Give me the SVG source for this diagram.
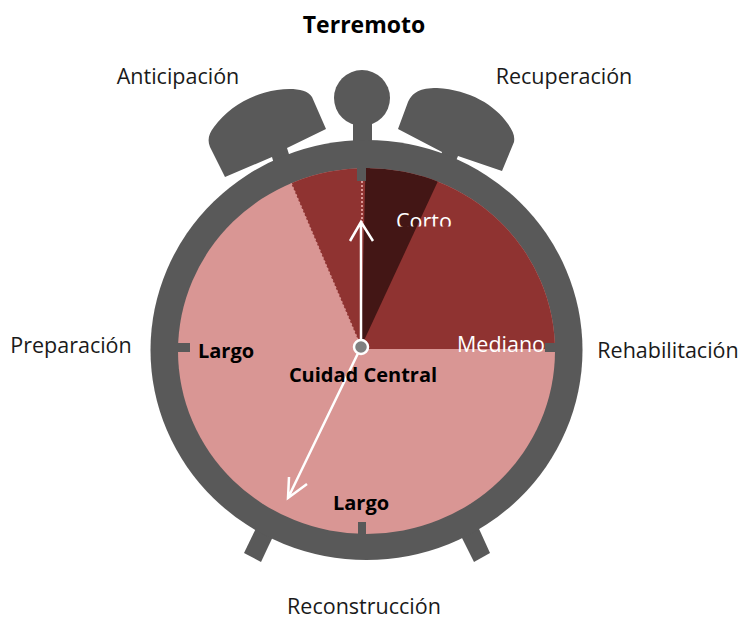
<svg xmlns="http://www.w3.org/2000/svg" width="739" height="620" viewBox="0 0 739 620">
<style>
.g{fill:#595959}
text{font-family:"Open Sans","Noto Sans","Liberation Sans",sans-serif;font-size:21.500px;fill:#1a1a1a}
.b{font-weight:700;fill:#000;font-size:20px}
.w{fill:#fff}
.h{stroke:#fff;stroke-width:2.500;fill:none}
</style>
<defs>
<clipPath id="c"><rect x="380" y="195" width="90" height="31.500"/></clipPath>
<clipPath id="f"><ellipse cx="366.500" cy="351" rx="188.500" ry="183"/></clipPath>
</defs>
<rect width="739" height="620" fill="#fff"/>
<g id="clock-body">
<path class="g" d="M260 520L244 553L261 562L277 528Z"/>
<path class="g" d="M475 520L490 553L474 562L457 528Z"/>
<path class="g" d="M225 177L210 147C207 140 209 133 214 127C228 108 250 94 277 90C292 88 307 89 312 97L326 129L287 148L294 170L278 178L272 157Z"/>
<path class="g" d="M398 129L408 102C413 92 420 88 437 88C470 90 495 105 508 124C513 131 515 136 514 142L502 171L458 156L450 175L436 170L442 152Z"/>
<circle class="g" cx="362" cy="98" r="28"/>
<rect class="g" x="353" y="120" width="19" height="30"/>
<ellipse class="g" cx="366.500" cy="350" rx="216" ry="210"/>
</g>
<g id="dial">
<ellipse cx="366.500" cy="351" rx="188.500" ry="183" fill="#d99694"/>
<g clip-path="url(#f)">
<path fill="#8f3331" d="M361 347L291 183L300 150H370V347Z"/>
<path fill="#8f3331" d="M361 349L425 170L446 150H570V349Z"/>
<path fill="#431615" d="M361 347L366 150H446L438 181Z"/>
</g>
<path d="M361 347L291 183" stroke="#d99694" stroke-width="1.500" stroke-dasharray="2 2" fill="none"/>
<path d="M362 181V222" stroke="#d99694" stroke-width="2" stroke-dasharray="2 2" fill="none"/>
</g>
<g id="ticks">
<rect class="g" x="357" y="165" width="9" height="16"/>
<rect class="g" x="358" y="522" width="8" height="14"/>
<rect class="g" x="176" y="343" width="14" height="9"/>
<rect class="g" x="545" y="343" width="12" height="9"/>
</g>
<g id="connectors">
<path class="h" d="M361 347V222M350 241L361 222L373 241"/>
<path class="h" d="M361 347L288 498M289 477L288 498L307 484"/>
</g>
<g id="center-pin"><circle cx="361" cy="347" r="7" fill="#808080" stroke="#fff" stroke-width="2.500"/></g>
<g id="title"><text class="b" x="364" y="33" text-anchor="middle" style="font-size:23px">Terremoto</text></g>
<g id="labels">
<text x="178" y="84" text-anchor="middle">Anticipación</text>
<text x="564" y="84" text-anchor="middle">Recuperación</text>
<text x="71" y="353" text-anchor="middle">Preparación</text>
<text x="668" y="358" text-anchor="middle">Rehabilitación</text>
<text x="364" y="613.500" text-anchor="middle">Reconstrucción</text>
<text class="w" x="424" y="229" text-anchor="middle" clip-path="url(#c)">Corto</text>
<text class="w" x="501" y="352" text-anchor="middle">Mediano</text>
<text class="b" x="226" y="358" text-anchor="middle">Largo</text>
<text class="b" x="363" y="382" text-anchor="middle">Cuidad Central</text>
<text class="b" x="361" y="510" text-anchor="middle">Largo</text>
</g>
</svg>
